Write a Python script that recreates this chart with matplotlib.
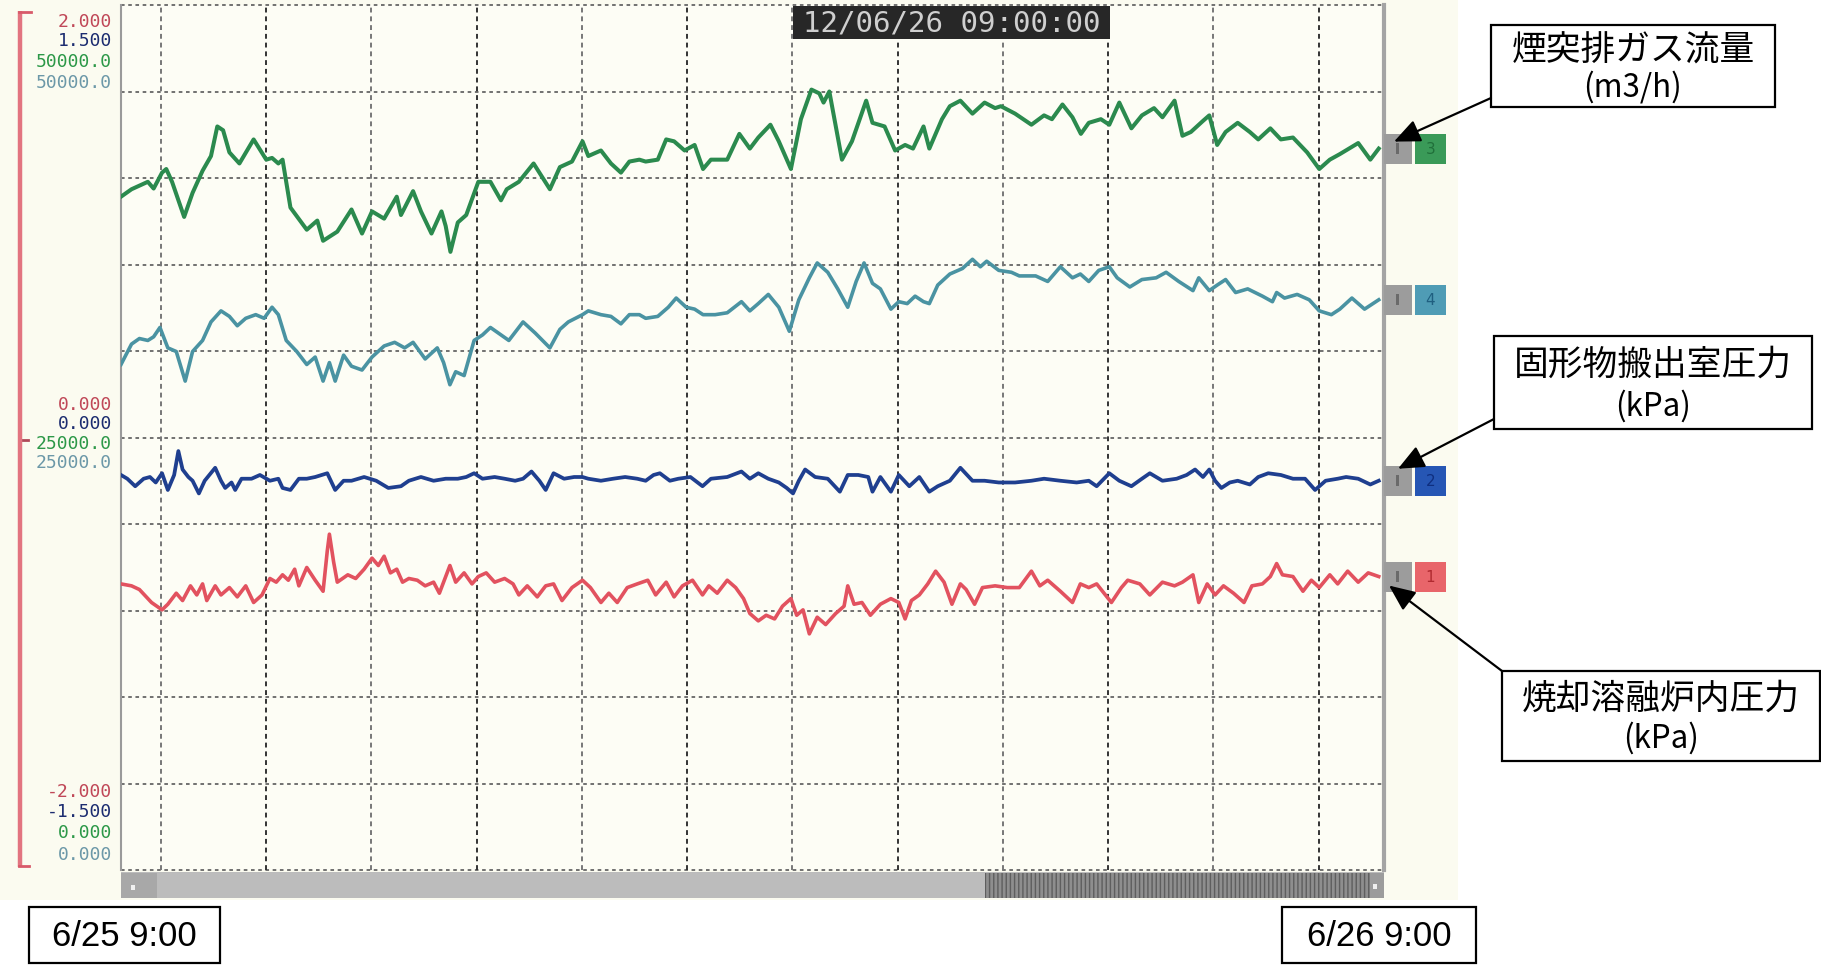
import matplotlib
matplotlib.use("Agg")
import matplotlib.pyplot as plt
from matplotlib.patches import Rectangle, FancyArrowPatch
from matplotlib.lines import Line2D
import numpy as np

# ------------------------------------------------------------------
# Trend data: (hours since 6/25 9:00, value)
# ------------------------------------------------------------------
start_label = "6/25 9:00"
end_label = "6/26 9:00"
cursor_stamp = "12/06/26 09:00:00"

# chimney exhaust gas flow (m3/h), scale 0 .. 50000
stack_flow = [
    (0.00, 38920), (0.20, 39350), (0.35, 39560), (0.51, 39780), (0.62, 39390), (0.78, 40310),
    (0.86, 40520), (0.97, 39780), (1.20, 37750), (1.36, 39140), (1.55, 40420), (1.71, 41270),
    (1.83, 42980), (1.94, 42760), (2.06, 41480), (2.25, 40840), (2.52, 42230), (2.76, 41060),
    (2.87, 41160), (2.99, 40840), (3.07, 41060), (3.22, 38290), (3.53, 37010), (3.73, 37540),
    (3.84, 36370), (4.11, 36900), (4.38, 38180), (4.58, 36790), (4.77, 38070), (5.00, 37650),
    (5.24, 38920), (5.32, 37860), (5.55, 39240), (5.70, 38070), (5.90, 36790), (6.09, 38070),
    (6.17, 37220), (6.26, 35730), (6.40, 37430), (6.56, 37860), (6.79, 39780), (7.02, 39780),
    (7.22, 38710), (7.33, 39350), (7.56, 39780), (7.84, 40840), (8.15, 39350), (8.34, 40630),
    (8.57, 40950), (8.77, 42120), (8.88, 41270), (9.12, 41590), (9.31, 40840), (9.50, 40310),
    (9.66, 40950), (9.85, 41060), (9.97, 40950), (10.20, 41060), (10.36, 42230), (10.51, 42120),
    (10.71, 41590), (10.90, 41910), (11.06, 40520), (11.21, 41060), (11.52, 41060), (11.75, 42550),
    (11.95, 41700), (12.11, 42340), (12.34, 43080), (12.50, 42120), (12.73, 40520), (12.92, 43400),
    (13.12, 45110), (13.27, 44890), (13.35, 44360), (13.46, 45000), (13.70, 41060), (13.89, 42120),
    (14.16, 44470), (14.28, 43190), (14.51, 42980), (14.71, 41590), (14.90, 41910), (15.05, 41700),
    (15.25, 42980), (15.36, 41700), (15.60, 43400), (15.75, 44150), (15.95, 44470), (16.18, 43720),
    (16.41, 44360), (16.61, 44040), (16.72, 44150), (16.99, 43720), (17.30, 43080), (17.54, 43620),
    (17.69, 43400), (17.89, 44250), (18.08, 43510), (18.24, 42550), (18.39, 43190), (18.62, 43400),
    (18.78, 43080), (18.97, 44360), (19.20, 42870), (19.40, 43620), (19.63, 44040), (19.79, 43510),
    (20.02, 44470), (20.17, 42440), (20.33, 42660), (20.56, 43300), (20.68, 43620), (20.83, 41910),
    (20.99, 42660), (21.22, 43190), (21.45, 42660), (21.61, 42230), (21.84, 42870), (22.04, 42230),
    (22.27, 42340), (22.54, 41480), (22.77, 40520), (22.97, 41060), (23.16, 41380), (23.51, 42020),
    (23.74, 41060), (23.90, 41700),
]

# second flow channel, scale 0 .. 50000
flow_ch4 = [
    (0.00, 29220), (0.20, 30400), (0.35, 30720), (0.51, 30610), (0.62, 30820), (0.74, 31360),
    (0.89, 30180), (1.05, 29970), (1.22, 28260), (1.36, 29970), (1.55, 30610), (1.71, 31680),
    (1.90, 32320), (2.06, 32000), (2.21, 31460), (2.37, 31890), (2.56, 32100), (2.72, 31890),
    (2.87, 32530), (2.99, 32100), (3.14, 30610), (3.34, 29970), (3.53, 29220), (3.69, 29650),
    (3.84, 28260), (3.96, 29330), (4.07, 28260), (4.23, 29760), (4.38, 29120), (4.58, 28900),
    (4.77, 29650), (5.00, 30290), (5.20, 30500), (5.39, 30180), (5.55, 30500), (5.78, 29540),
    (6.01, 30180), (6.13, 29330), (6.25, 28050), (6.36, 28800), (6.52, 28580), (6.71, 30610),
    (6.87, 30930), (7.02, 31360), (7.22, 30930), (7.37, 30610), (7.64, 31680), (7.87, 31040),
    (8.15, 30180), (8.34, 31250), (8.50, 31680), (8.77, 32100), (8.88, 32320), (9.12, 32100),
    (9.31, 32000), (9.50, 31570), (9.66, 32100), (9.85, 32100), (9.97, 31890), (10.20, 32000),
    (10.40, 32530), (10.55, 33060), (10.74, 32530), (10.90, 32420), (11.06, 32100), (11.29, 32100),
    (11.52, 32210), (11.79, 32850), (11.95, 32320), (12.11, 32740), (12.30, 33270), (12.50, 32530),
    (12.70, 31140), (12.88, 32960), (13.08, 34230), (13.23, 35090), (13.43, 34550), (13.62, 33590),
    (13.81, 32530), (13.97, 34020), (14.12, 35090), (14.28, 33910), (14.43, 33590), (14.63, 32420),
    (14.78, 32850), (14.94, 32740), (15.09, 33170), (15.25, 32850), (15.36, 32740), (15.52, 33810),
    (15.75, 34450), (15.99, 34770), (16.18, 35300), (16.33, 34870), (16.45, 35190), (16.68, 34660),
    (16.92, 34550), (17.07, 34340), (17.38, 34340), (17.61, 34020), (17.85, 34870), (18.08, 34230),
    (18.23, 34450), (18.39, 34020), (18.58, 34660), (18.78, 34870), (18.93, 34230), (19.17, 33700),
    (19.40, 34130), (19.67, 34230), (19.86, 34550), (20.10, 34020), (20.37, 33490), (20.48, 34230),
    (20.68, 33490), (20.83, 33810), (20.99, 34130), (21.18, 33380), (21.41, 33590), (21.69, 33170),
    (21.88, 32850), (21.96, 33380), (22.11, 33060), (22.35, 33270), (22.58, 32960), (22.77, 32320),
    (23.00, 32100), (23.16, 32420), (23.39, 33060), (23.63, 32420), (23.90, 32960),
]

# solids discharge room pressure (kPa), scale -1.5 .. 1.5
discharge_room_kpa = [
    (0.00, -0.130), (0.12, -0.143), (0.27, -0.169), (0.43, -0.143), (0.55, -0.137), (0.66, -0.156),
    (0.78, -0.124), (0.89, -0.182), (1.01, -0.130), (1.09, -0.047), (1.17, -0.111), (1.28, -0.137),
    (1.36, -0.150), (1.48, -0.194), (1.59, -0.150), (1.79, -0.105), (1.90, -0.150), (1.98, -0.175),
    (2.10, -0.156), (2.17, -0.182), (2.29, -0.143), (2.48, -0.143), (2.64, -0.130), (2.83, -0.150),
    (2.99, -0.143), (3.07, -0.175), (3.22, -0.182), (3.38, -0.143), (3.53, -0.143), (3.69, -0.137),
    (3.92, -0.124), (4.07, -0.182), (4.23, -0.150), (4.38, -0.150), (4.62, -0.137), (4.85, -0.150),
    (5.08, -0.175), (5.32, -0.169), (5.47, -0.150), (5.70, -0.137), (5.94, -0.150), (6.17, -0.143),
    (6.40, -0.143), (6.56, -0.137), (6.71, -0.124), (6.87, -0.143), (7.10, -0.137), (7.29, -0.143),
    (7.49, -0.150), (7.64, -0.143), (7.80, -0.118), (7.95, -0.150), (8.07, -0.182), (8.22, -0.124),
    (8.42, -0.143), (8.61, -0.137), (8.77, -0.137), (8.88, -0.143), (9.12, -0.150), (9.35, -0.143),
    (9.58, -0.137), (9.81, -0.143), (9.97, -0.150), (10.12, -0.130), (10.24, -0.124), (10.43, -0.150),
    (10.59, -0.143), (10.82, -0.137), (11.05, -0.169), (11.21, -0.143), (11.52, -0.137), (11.79, -0.118),
    (11.95, -0.143), (12.11, -0.124), (12.30, -0.143), (12.50, -0.156), (12.65, -0.175), (12.77, -0.194),
    (12.88, -0.150), (13.00, -0.111), (13.19, -0.137), (13.43, -0.143), (13.66, -0.188), (13.81, -0.130),
    (14.01, -0.130), (14.20, -0.137), (14.28, -0.188), (14.43, -0.137), (14.63, -0.188), (14.78, -0.130),
    (14.98, -0.169), (15.17, -0.137), (15.36, -0.188), (15.52, -0.169), (15.75, -0.150), (15.95, -0.105),
    (16.18, -0.150), (16.41, -0.150), (16.68, -0.156), (16.99, -0.156), (17.30, -0.150), (17.54, -0.143),
    (17.85, -0.150), (18.16, -0.156), (18.39, -0.150), (18.54, -0.169), (18.78, -0.124), (18.97, -0.150),
    (19.20, -0.169), (19.40, -0.143), (19.55, -0.124), (19.79, -0.150), (20.06, -0.143), (20.25, -0.130),
    (20.41, -0.111), (20.56, -0.137), (20.68, -0.111), (20.79, -0.150), (20.91, -0.175), (21.07, -0.156),
    (21.22, -0.150), (21.45, -0.163), (21.61, -0.137), (21.80, -0.124), (22.04, -0.130), (22.27, -0.143),
    (22.50, -0.143), (22.69, -0.182), (22.89, -0.150), (23.12, -0.143), (23.28, -0.137), (23.51, -0.143),
    (23.74, -0.163), (23.90, -0.150),
]

# incineration melting furnace pressure (kPa), scale -2 .. 2
furnace_kpa = [
    (0.00, -0.677), (0.20, -0.686), (0.35, -0.703), (0.58, -0.763), (0.78, -0.797), (0.89, -0.771),
    (1.05, -0.720), (1.17, -0.754), (1.32, -0.686), (1.44, -0.728), (1.55, -0.677), (1.63, -0.754),
    (1.79, -0.686), (1.90, -0.728), (2.06, -0.694), (2.21, -0.737), (2.37, -0.686), (2.52, -0.763),
    (2.68, -0.728), (2.83, -0.652), (2.95, -0.669), (3.07, -0.635), (3.18, -0.660), (3.30, -0.609),
    (3.38, -0.686), (3.53, -0.601), (3.69, -0.660), (3.84, -0.711), (3.92, -0.524), (3.96, -0.447),
    (4.04, -0.575), (4.11, -0.669), (4.31, -0.635), (4.46, -0.652), (4.62, -0.609), (4.77, -0.558),
    (4.89, -0.592), (5.00, -0.549), (5.12, -0.626), (5.24, -0.609), (5.35, -0.669), (5.47, -0.652),
    (5.63, -0.660), (5.78, -0.686), (5.94, -0.669), (6.05, -0.720), (6.25, -0.592), (6.36, -0.669),
    (6.52, -0.626), (6.67, -0.677), (6.79, -0.643), (6.94, -0.626), (7.10, -0.669), (7.29, -0.652),
    (7.45, -0.677), (7.56, -0.728), (7.72, -0.686), (7.91, -0.737), (8.07, -0.686), (8.22, -0.677),
    (8.38, -0.754), (8.57, -0.694), (8.77, -0.660), (8.92, -0.694), (9.12, -0.763), (9.27, -0.720),
    (9.43, -0.763), (9.62, -0.694), (9.81, -0.677), (10.01, -0.660), (10.16, -0.728), (10.36, -0.669),
    (10.51, -0.737), (10.67, -0.686), (10.86, -0.660), (11.05, -0.728), (11.17, -0.686), (11.33, -0.720),
    (11.52, -0.660), (11.68, -0.694), (11.83, -0.745), (11.95, -0.814), (12.11, -0.848), (12.26, -0.822),
    (12.42, -0.839), (12.57, -0.780), (12.73, -0.745), (12.84, -0.822), (12.96, -0.797), (13.08, -0.908),
    (13.23, -0.831), (13.39, -0.865), (13.58, -0.814), (13.74, -0.780), (13.81, -0.686), (13.93, -0.771),
    (14.08, -0.763), (14.24, -0.822), (14.43, -0.771), (14.63, -0.745), (14.78, -0.763), (14.90, -0.839),
    (15.02, -0.754), (15.17, -0.728), (15.33, -0.677), (15.48, -0.618), (15.64, -0.669), (15.79, -0.771),
    (15.95, -0.677), (16.06, -0.703), (16.22, -0.771), (16.37, -0.694), (16.61, -0.686), (16.84, -0.694),
    (17.07, -0.694), (17.30, -0.618), (17.46, -0.686), (17.61, -0.660), (17.85, -0.711), (18.08, -0.763),
    (18.23, -0.677), (18.39, -0.694), (18.54, -0.677), (18.82, -0.763), (19.01, -0.694), (19.13, -0.660),
    (19.36, -0.677), (19.55, -0.728), (19.79, -0.669), (20.02, -0.686), (20.17, -0.669), (20.37, -0.635),
    (20.48, -0.763), (20.64, -0.677), (20.79, -0.728), (20.95, -0.686), (21.14, -0.720), (21.34, -0.763),
    (21.49, -0.686), (21.69, -0.677), (21.84, -0.643), (21.96, -0.583), (22.07, -0.635), (22.27, -0.643),
    (22.46, -0.711), (22.62, -0.660), (22.77, -0.694), (22.97, -0.635), (23.12, -0.677), (23.31, -0.618),
    (23.51, -0.669), (23.70, -0.626), (23.90, -0.643),
]

# recorder channel scales (min, max)
scale_furnace = (-2.0, 2.0)
scale_room = (-1.5, 1.5)
scale_flow = (0.0, 50000.0)
span_hours = 24.0

# ------------------------------------------------------------------
W, H = 1821, 970
fig = plt.figure(figsize=(W / 100, H / 100), dpi=100)
fig.patch.set_facecolor("white")
CJK = ["Noto Sans CJK JP", "DejaVu Sans"]


def fx(px):
    return px / W


def fy(py):
    return 1 - py / H


def add_rect(x0, y0, x1, y1, **kw):
    r = Rectangle((fx(x0), fy(y1)), fx(x1) - fx(x0), fy(y0) - fy(y1),
                  transform=fig.transFigure, **kw)
    fig.add_artist(r)
    return r


def add_line(xs, ys, **kw):
    fig.add_artist(Line2D([fx(x) for x in xs], [fy(y) for y in ys],
                          transform=fig.transFigure, **kw))


def scale_text(val):
    if val == 0 or abs(val) < 1000:
        return "{:.3f}".format(abs(val) if val == 0 else val)
    return "{:.1f}".format(val)


# recorder screen background
add_rect(0, 0, 1458, 901, facecolor="#fbfbf0", edgecolor="none", zorder=0)

# plot area
PL, PR, PT, PB = 121, 1384, 6, 871
ax = fig.add_axes([fx(PL), fy(PB), fx(PR) - fx(PL), fy(PT) - fy(PB)])
ax.set_facecolor("#fdfdf5")
ax.set_xlim(0, span_hours)
ax.set_ylim(*scale_flow)
ax.set_xticks([])
ax.set_yticks([])
for side in ("top", "bottom"):
    ax.spines[side].set_visible(False)
ax.spines["left"].set_color("#9a9a9a")
ax.spines["left"].set_linewidth(1.5)
ax.spines["right"].set_color("#a4a4a4")
ax.spines["right"].set_linewidth(3.0)

ax_room = ax.twinx()
ax_room.set_ylim(*scale_room)
ax_room.axis("off")
ax_furn = ax.twinx()
ax_furn.set_ylim(*scale_furnace)
ax_furn.axis("off")

# grid: 10 vertical divisions, 2-hour time divisions
for yv in np.linspace(scale_flow[0], scale_flow[1], 11):
    ax.axhline(yv, color="#666666", lw=1.3, dashes=(2.0, 2.0), zorder=1,
               clip_on=False)
grid_hours = [0.76 + 2 * k for k in range(12)]
for k, xv in enumerate(grid_hours):
    col = "#333333" if k % 2 else "#777777"
    ax.axvline(xv, color=col, lw=1.4, dashes=(2.5, 2.0), zorder=1)

# traces
t, v = zip(*stack_flow)
ax.plot(t, v, color="#2b8a4e", lw=2.9, zorder=5)
t, v = zip(*flow_ch4)
ax.plot(t, v, color="#4a93a2", lw=2.6, zorder=4)
t, v = zip(*discharge_room_kpa)
ax_room.plot(t, v, color="#1f3f8f", lw=2.7)
t, v = zip(*furnace_kpa)
ax_furn.plot(t, v, color="#e2525f", lw=2.6)

# cursor time stamp
add_rect(793, 7, 1110, 40, facecolor="#272727", edgecolor="none", zorder=6)
fig.text(fx(951.5), fy(24), cursor_stamp, family="DejaVu Sans Mono", fontsize=21,
         color="#cfcfcf", ha="center", va="center", zorder=7)

# scale labels at the left
scale_rows = [
    (scale_furnace, "#c04858"),
    (scale_room, "#1c2c70"),
    (scale_flow, "#2c9848"),
    (scale_flow, "#6c98a8"),
]
group_rows = {"top": [22, 41, 62, 83], "mid": [405, 424, 444, 463],
              "bot": [792, 812, 833, 855]}
for i, (sc, col) in enumerate(scale_rows):
    lo, hi = sc
    for key, val in (("top", hi), ("mid", (lo + hi) / 2), ("bot", lo)):
        fig.text(fx(112), fy(group_rows[key][i]), scale_text(val),
                 family="DejaVu Sans Mono", fontsize=13, color=col,
                 ha="right", va="center")

# red scale bracket
add_line([20, 20], [12, 868], color="#e27480", lw=3.2, solid_capstyle="butt")
add_line([19, 31], [13, 13], color="#d85a6a", lw=2.0)
add_line([19, 29], [867, 867], color="#d85a6a", lw=2.0)
add_line([23, 28], [441, 441], color="#b04858", lw=2.0)

# scroll bar
add_rect(121, 873, 1384, 899, facecolor="#bcbcbc", edgecolor="none")
add_rect(121, 874, 157, 899, facecolor="#a8a8a8", edgecolor="none")
add_rect(131, 886, 135, 891, facecolor="#f0f0f0", edgecolor="none")
add_rect(985, 874, 1370, 899, facecolor="#8e8e8e", edgecolor="#5e5e5e",
         linewidth=0, hatch="||||")
add_rect(1370, 874, 1384, 899, facecolor="#9c9c9c", edgecolor="none")
add_rect(1373, 885, 1377, 890, facecolor="#f0f0f0", edgecolor="none")

# channel tags at the right end of each trace
tags = [
    (ax, stack_flow[-1][1], "#3a9a58", "#20703a", "3"),
    (ax, flow_ch4[-1][1], "#4f9cb5", "#1f5f80", "4"),
    (ax_room, discharge_room_kpa[-1][1], "#2656b4", "#0f2f80", "2"),
    (ax_furn, furnace_kpa[-1][1], "#e8656a", "#b02a30", "1"),
]
tag_y = []
for a, last, col, dcol, digit in tags:
    disp = a.transData.transform((span_hours, last))
    yc = H - disp[1]
    tag_y.append(yc)
    add_rect(1384, yc - 15, 1412, yc + 15, facecolor="#9c9c9c", edgecolor="none", zorder=6)
    add_rect(1396, yc - 6, 1399, yc + 5, facecolor="#6a6a6a", edgecolor="none", zorder=7)
    add_rect(1415, yc - 15, 1446, yc + 15, facecolor=col, edgecolor="none", zorder=6)
    fig.text(fx(1430.5), fy(yc), digit, fontsize=11, color=dcol, ha="center",
             va="center", zorder=7)

# callout boxes
callouts = [
    ("煙突排ガス流量", "(m3/h)", (1491, 26, 1775, 108), (1491, 99), (1394, tag_y[0] - 7)),
    ("固形物搬出室圧力", "(kPa)", (1494, 337, 1812, 430), (1494, 420), (1398, tag_y[2] - 12)),
    ("焼却溶融炉内圧力", "(kPa)", (1502, 672, 1820, 762), (1502, 672), (1389, tag_y[3] + 9)),
]
for line1, line2, (x0, y0, x1, y1), start, tip in callouts:
    add_rect(x0, y0, x1, y1, facecolor="white", edgecolor="black", linewidth=1.6, zorder=3)
    cx = (x0 + x1) / 2
    hgt = y1 - y0
    fig.text(fx(cx), fy(y0 + hgt * 0.30), line1, family=CJK, fontsize=25,
             ha="center", va="center", zorder=4)
    fig.text(fx(cx), fy(y0 + hgt * 0.74), line2, family=CJK, fontsize=22.5,
             ha="center", va="center", zorder=4)
    fig.add_artist(FancyArrowPatch((fx(start[0]), fy(start[1])), (fx(tip[0]), fy(tip[1])),
                                   transform=fig.transFigure,
                                   arrowstyle="-|>,head_length=0.8,head_width=0.35",
                                   mutation_scale=20, lw=1.6, color="black",
                                   shrinkA=0, shrinkB=0, zorder=8))

# start / end time boxes
for label, (x0, x1) in ((start_label, (29, 220)), (end_label, (1282, 1476))):
    add_rect(x0, 908, x1, 964, facecolor="white", edgecolor="black", linewidth=1.6)
    fig.text(fx((x0 + x1) / 2), fy(937), label, family="Liberation Sans",
             fontsize=25, ha="center", va="center")

fig.savefig("out.png", dpi=100)
